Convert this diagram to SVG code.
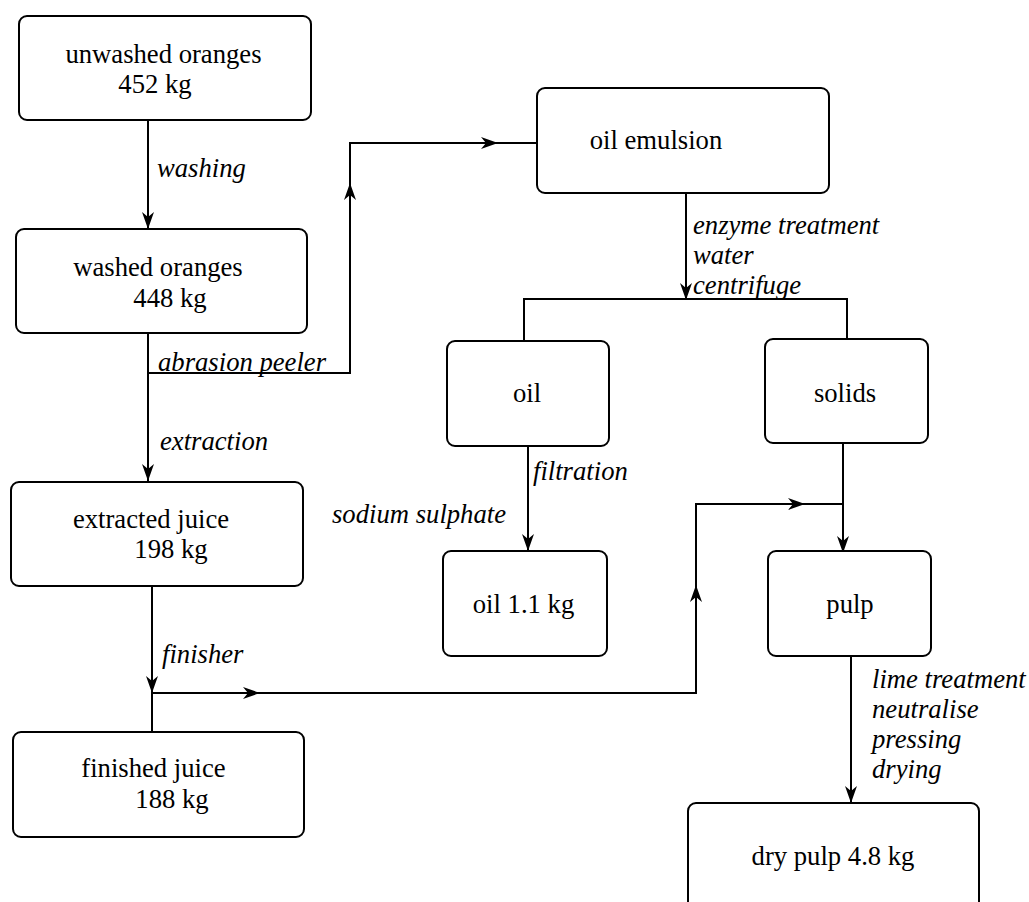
<svg xmlns="http://www.w3.org/2000/svg" width="1029" height="902" viewBox="0 0 1029 902">
<defs>
<style>
.box{fill:#fff;stroke:#000;stroke-width:2}
.t{font-family:"Liberation Serif","Times New Roman",serif;font-size:26.67px;fill:#000;text-anchor:middle}
.l{font-family:"Liberation Serif","Times New Roman",serif;font-size:26.67px;font-style:italic;fill:#000}
.c{fill:none;stroke:#000;stroke-width:2}
</style>
<marker id="ah" markerUnits="userSpaceOnUse" viewBox="-18 -8 20 16" refX="0" refY="0" markerWidth="20" markerHeight="16" orient="auto" overflow="visible">
<path d="M0,0 L-17,-6 L-12,0 L-17,6 Z" fill="#000"/>
</marker>
</defs>
<rect width="1029" height="902" fill="#fff"/>
<g id="connectors">
<path class="c" d="M148,120 V229" marker-end="url(#ah)"/>
<path class="c" d="M148,333 V481" marker-end="url(#ah)"/>
<path class="c" d="M148,373 H350 V183" marker-end="url(#ah)"/>
<path class="c" d="M350,184 V143 H498" marker-end="url(#ah)"/>
<path class="c" d="M497,143 H537"/>
<path class="c" d="M686,193 V300" marker-end="url(#ah)"/>
<path class="c" d="M524,341 V299 H847 V339"/>
<path class="c" d="M528,446 V551" marker-end="url(#ah)"/>
<path class="c" d="M843,443 V553" marker-end="url(#ah)"/>
<path class="c" d="M152,586 V693" marker-end="url(#ah)"/>
<path class="c" d="M152,692 V732"/>
<path class="c" d="M152,693 H260" marker-end="url(#ah)"/>
<path class="c" d="M259,693 H696 V585" marker-end="url(#ah)"/>
<path class="c" d="M696,586 V504 H805" marker-end="url(#ah)"/>
<path class="c" d="M804,504 H843"/>
<path class="c" d="M851,656 V803" marker-end="url(#ah)"/>
</g>
<g id="labels">
<text class="l" x="157" y="177">washing</text>
<text class="l" x="158" y="371">abrasion peeler</text>
<text class="l" x="160" y="450">extraction</text>
<text class="l" x="693" y="234">enzyme treatment</text>
<text class="l" x="693" y="264">water</text>
<text class="l" x="693" y="294">centrifuge</text>
<text class="l" x="533" y="480">filtration</text>
<text class="l" x="332" y="523">sodium sulphate</text>
<text class="l" x="162" y="663">finisher</text>
<text class="l" x="872" y="688">lime treatment</text>
<text class="l" x="872" y="718">neutralise</text>
<text class="l" x="872" y="748">pressing</text>
<text class="l" x="872" y="778">drying</text>
</g>
<g id="unwashed-oranges">
<rect class="box" x="19" y="16" width="292" height="104" rx="8"/>
<text class="t" x="163.5" y="63">unwashed oranges</text>
<text class="t" x="155" y="93">452 kg</text>
</g>
<g id="washed-oranges">
<rect class="box" x="16" y="229" width="291" height="104" rx="8"/>
<text class="t" x="158" y="276">washed oranges</text>
<text class="t" x="170" y="307">448 kg</text>
</g>
<g id="extracted-juice">
<rect class="box" x="11" y="482" width="292" height="104" rx="8"/>
<text class="t" x="151" y="528">extracted juice</text>
<text class="t" x="171" y="558">198 kg</text>
</g>
<g id="finished-juice">
<rect class="box" x="13" y="732" width="291" height="105" rx="8"/>
<text class="t" x="153.5" y="777">finished juice</text>
<text class="t" x="172" y="808">188 kg</text>
</g>
<g id="oil-emulsion">
<rect class="box" x="537" y="88" width="292" height="105" rx="8"/>
<text class="t" x="656" y="149">oil emulsion</text>
</g>
<g id="oil">
<rect class="box" x="447" y="341" width="162" height="105" rx="8"/>
<text class="t" x="527" y="402">oil</text>
</g>
<g id="solids">
<rect class="box" x="765" y="339" width="163" height="104" rx="8"/>
<text class="t" x="845" y="402">solids</text>
</g>
<g id="oil-1-1-kg">
<rect class="box" x="443" y="551" width="164" height="105" rx="8"/>
<text class="t" x="523.5" y="613">oil 1.1 kg</text>
</g>
<g id="pulp">
<rect class="box" x="768" y="551" width="163" height="105" rx="8"/>
<text class="t" x="850" y="613">pulp</text>
</g>
<g id="dry-pulp">
<rect class="box" x="688" y="803" width="291" height="130" rx="8"/>
<text class="t" x="833" y="865">dry pulp 4.8 kg</text>
</g>
</svg>
